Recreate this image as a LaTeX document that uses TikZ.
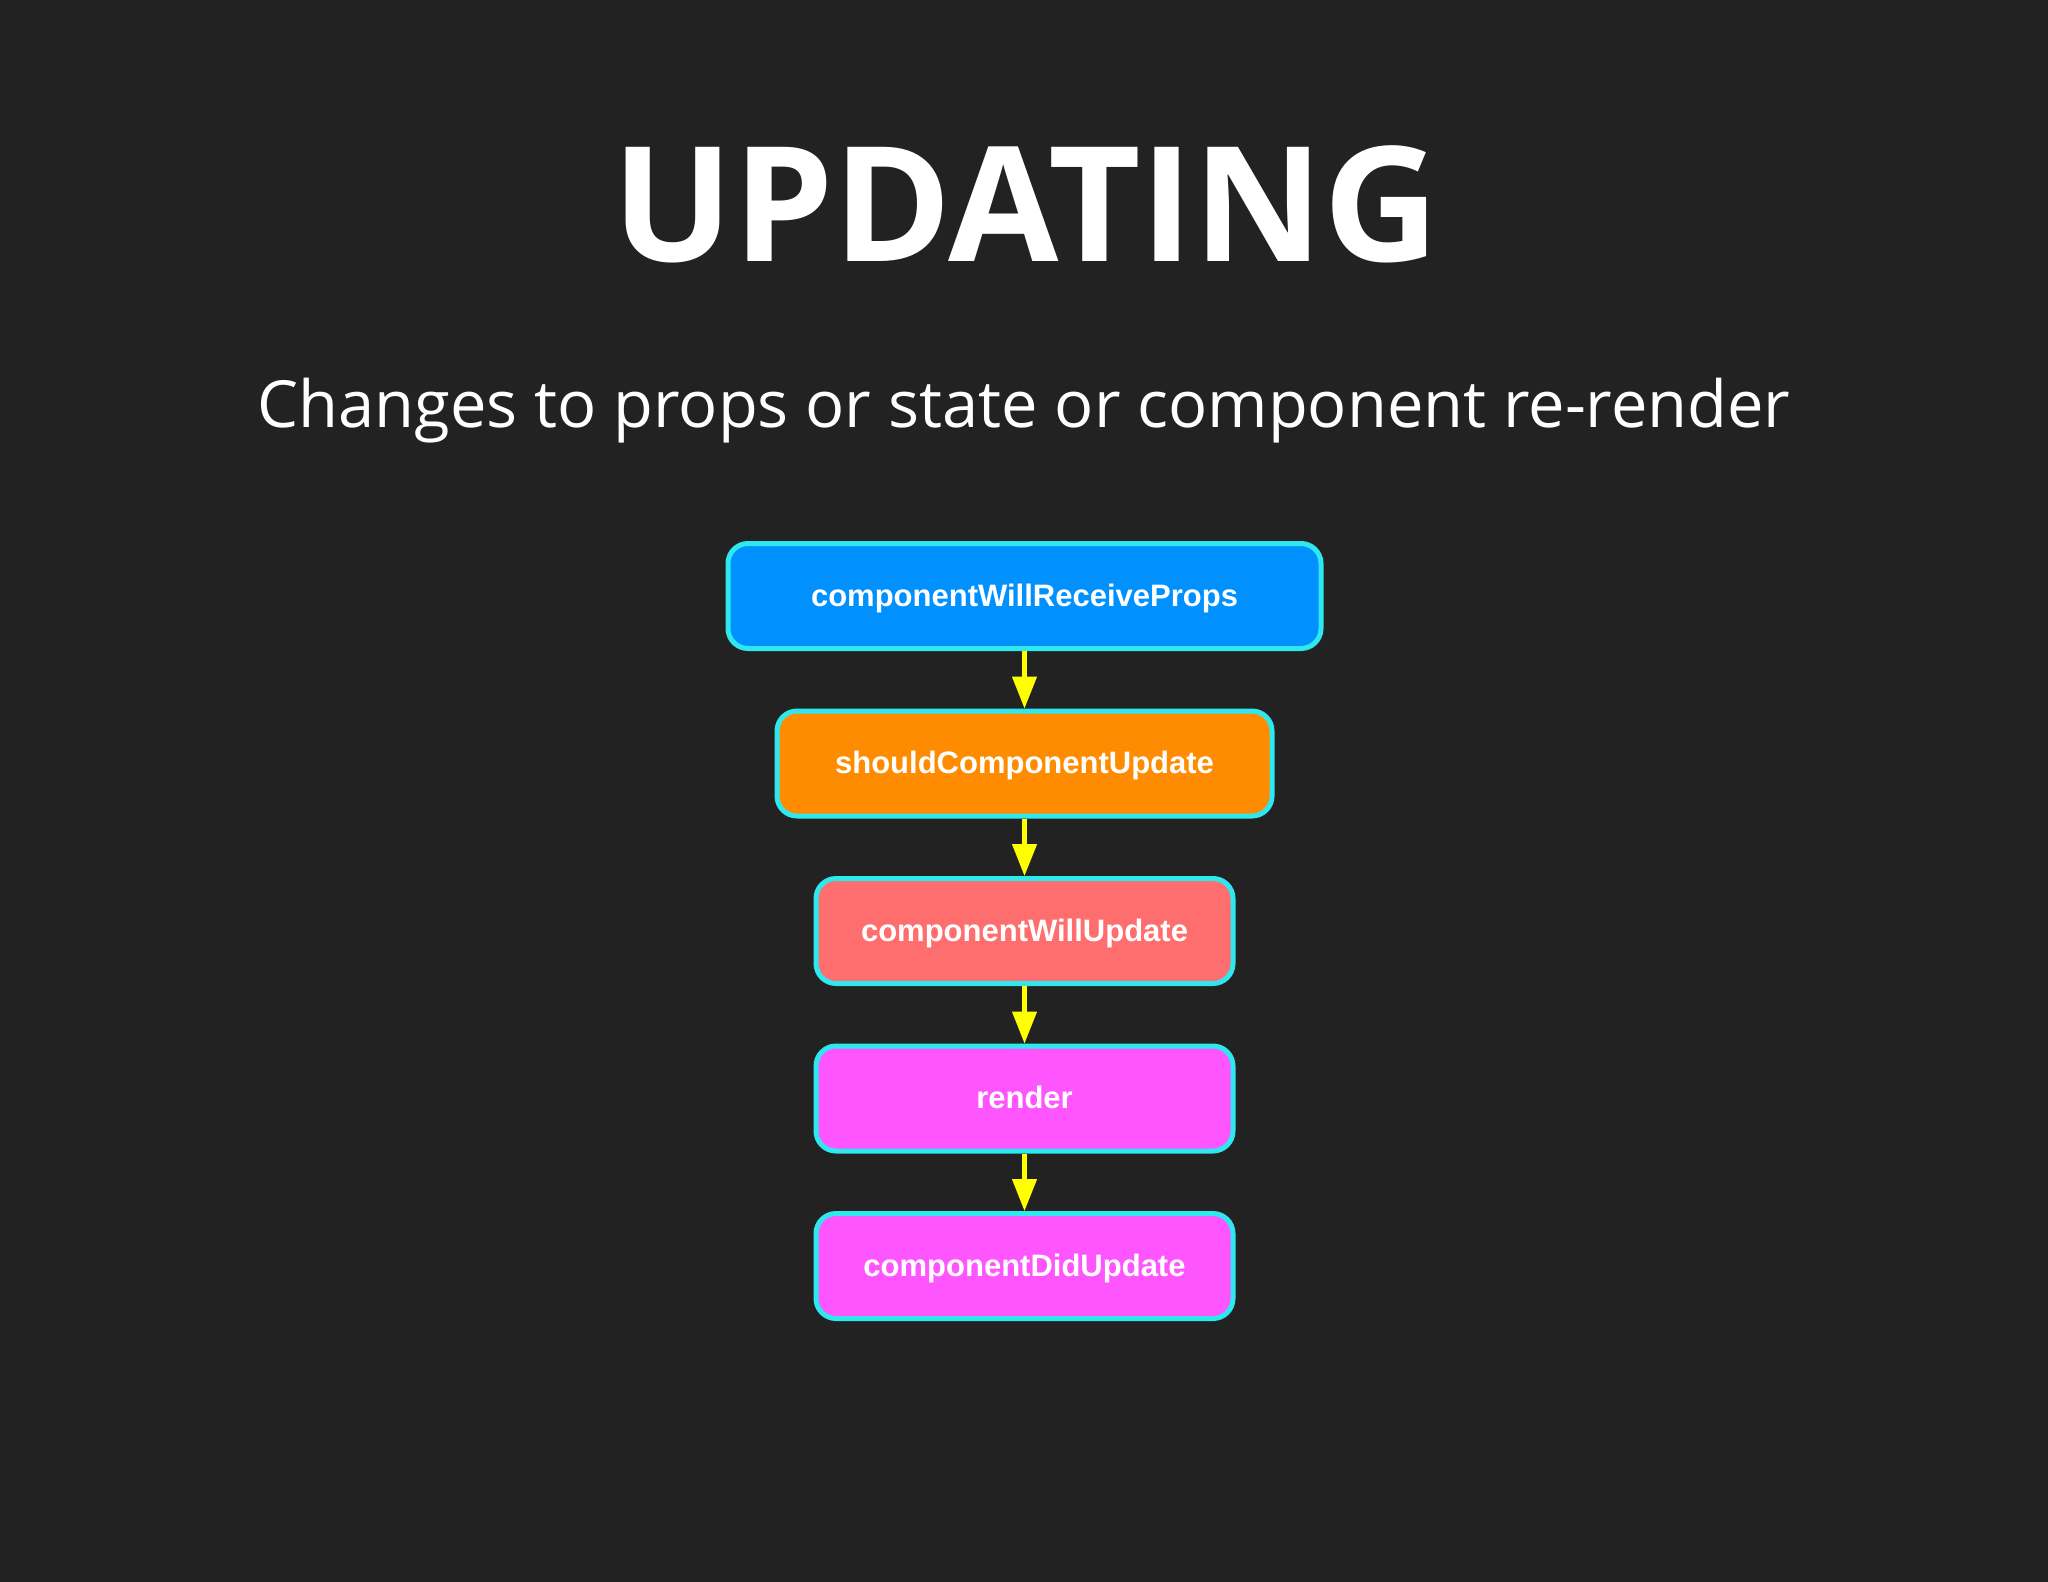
\documentclass[tikz,border=0pt]{standalone}
\usepackage{fontspec}
\setmainfont{Open Sans}
\newfontfamily\boxfont{Liberation Sans}
\usetikzlibrary{positioning,arrows.meta}

\definecolor{bgdark}{HTML}{222222}
\definecolor{edgecyan}{HTML}{2EE8EE}
\definecolor{propsblue}{HTML}{0091FF}
\definecolor{shouldorange}{HTML}{FF8C00}
\definecolor{willred}{HTML}{FF6E6E}
\definecolor{renderpink}{HTML}{FF55FF}
\definecolor{flowyellow}{HTML}{FFFF00}

\begin{document}
\begin{tikzpicture}[x=1pt, y=-1pt, node distance=57.5pt,
  every node/.style={align=center, text=white},
  stage/.style={draw=edgecyan, line width=5pt, rounded corners=20pt, minimum width=417pt, minimum height=105pt,
    inner sep=0pt, text height=22pt, text depth=2pt, font=\boxfont\bfseries\fontsize{31}{31}\selectfont},
  flow/.style={draw=flowyellow, line width=4.5pt, -{Triangle[width=24pt,length=32pt]}}]
\fill[bgdark] (0,0) rectangle (2048,1582);
\useasboundingbox (0,0) rectangle (2048,1582);

\node[anchor=base] (title) at (1026,261) {\fontsize{160}{160}\selectfont\bfseries UPDATING};
\node[anchor=base] (subtitle) at (1024,427) {\fontsize{65}{65}\selectfont Changes to props or state or component re-render};

\node[stage, fill=propsblue, minimum width=593pt] (willprops) at (1024.5,596) {componentWillReceiveProps};
\node[stage, fill=shouldorange, minimum width=495pt, below=of willprops] (should) {shouldComponentUpdate};
\node[stage, fill=willred, below=of should] (willupdate) {componentWillUpdate};
\node[stage, fill=renderpink, below=of willupdate] (render) {render};
\node[stage, fill=renderpink, below=of render] (didupdate) {componentDidUpdate};

\draw[flow] (willprops) -- (should);
\draw[flow] (should) -- (willupdate);
\draw[flow] (willupdate) -- (render);
\draw[flow] (render) -- (didupdate);
\end{tikzpicture}
\end{document}
